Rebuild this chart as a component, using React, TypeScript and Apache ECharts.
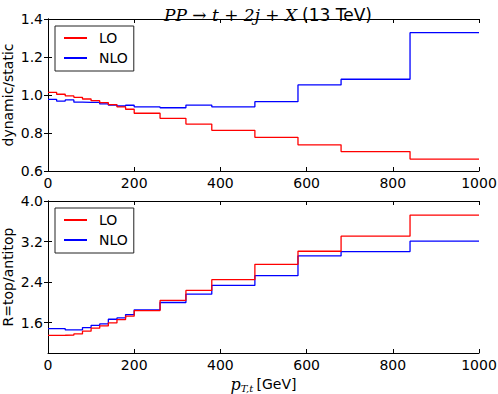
import React, { useEffect, useRef } from "react";
import * as echarts from "echarts";

const binEdges = [0, 20, 40, 60, 80, 100, 120, 140, 160, 180, 200, 260, 320, 380, 480, 580, 680, 840, 1000];
const loDynStatic = [1.014, 1.004, 0.995, 0.988, 0.979, 0.970, 0.960, 0.949, 0.938, 0.925, 0.904, 0.877, 0.847, 0.814, 0.777, 0.738, 0.702, 0.663];
const nloDynStatic = [0.977, 0.968, 0.974, 0.962, 0.961, 0.961, 0.953, 0.947, 0.942, 0.946, 0.937, 0.933, 0.947, 0.938, 0.965, 1.053, 1.083, 1.328];
const loRatio = [1.349, 1.350, 1.352, 1.376, 1.430, 1.490, 1.534, 1.594, 1.660, 1.726, 1.838, 2.037, 2.235, 2.447, 2.750, 3.008, 3.306, 3.722];
const nloRatio = [1.481, 1.480, 1.455, 1.455, 1.501, 1.547, 1.574, 1.666, 1.693, 1.759, 1.852, 1.997, 2.162, 2.334, 2.526, 2.916, 3.002, 3.207];
const ratioTicks = [1.6, 2.4, 3.2, 4.0];

const FONT = "DejaVu Sans";

function stepData(vals: number[]) {
  const d = vals.map((v, i) => [binEdges[i], v]);
  d.push([binEdges[binEdges.length - 1], vals[vals.length - 1]]);
  return d;
}

export default function App() {
  const ref = useRef<HTMLDivElement>(null);
  useEffect(() => {
    if (!ref.current) return;
    const chart = echarts.init(ref.current, null, { renderer: "svg" });
    const axisLine = { show: true, lineStyle: { color: "#000", width: 1 } };
    const tick = { show: true, inside: true, length: 4, lineStyle: { color: "#000", width: 1 } };
    const label = { color: "#000", fontFamily: FONT, fontSize: 14 };
    const xBase = (grid: number, top: boolean, extra: any = {}) => ({
      type: "value",
      gridIndex: grid,
      position: top ? "top" : "bottom",
      min: 0,
      max: 1000,
      interval: 200,
      axisLine,
      axisTick: tick,
      axisLabel: top ? { show: false } : { ...label, margin: 5, formatter: (v: number) => String(v) },
      splitLine: { show: false },
      ...extra,
    });
    const mkSeries = (name: string, color: string, vals: number[], idx: number) => ({
      type: "line",
      name,
      data: stepData(vals),
      step: "end",
      xAxisIndex: idx,
      yAxisIndex: idx,
      showSymbol: false,
      symbol: "none",
      lineStyle: { color, width: 1.3 },
      itemStyle: { color },
      z: name === "LO" ? 3 : 2,
    });
    const legendCommon = {
      orient: "vertical",
      left: 55,
      icon: "rect",
      itemWidth: 23,
      itemHeight: 2,
      itemGap: 6,
      borderColor: "#222",
      borderWidth: 1,
      borderRadius: 0,
      padding: [5, 6, 6, 9],
      textStyle: { color: "#000", fontFamily: FONT, fontSize: 14, lineHeight: 14, padding: [0, 0, 0, 7] },
      data: ["LO", "NLO"],
      selectedMode: false,
    };
    const yName = { color: "#000", fontFamily: FONT, fontSize: 14 };
    chart.setOption({
      animation: false,
      backgroundColor: "#fff",
      title: {
        text: "{m|PP → t + 2j + X} {s|(13 TeV)}",
        left: 263,
        textAlign: "center",
        top: 1,
        textStyle: {
          fontWeight: "normal",
          rich: {
            m: { fontFamily: "DejaVu Serif", fontStyle: "italic", fontWeight: "normal", fontSize: 17, color: "#000" },
            s: { fontFamily: FONT, fontSize: 17, fontWeight: "normal", color: "#000" },
          },
        },
      },
      legend: [
        { ...legendCommon, top: 26 },
        { ...legendCommon, top: 208 },
      ],
      grid: [
        { left: 48, right: 19, top: 19, height: 152, show: false, outerBoundsMode: "none", containLabel: false },
        { left: 48, right: 19, top: 201, height: 152, show: false, outerBoundsMode: "none", containLabel: false },
      ],
      xAxis: [
        xBase(0, false),
        xBase(1, false, {
          name: "{m|p}{sub|T,t} {s|[GeV]}",
          nameLocation: "middle",
          nameGap: 22,
          nameMoveOverlap: false,
          nameTextStyle: {
            rich: {
              m: { fontFamily: "DejaVu Serif", fontStyle: "italic", fontSize: 16, color: "#000" },
              sub: { fontFamily: "DejaVu Serif", fontStyle: "italic", fontSize: 10, color: "#000", padding: [8, 0, 0, 0] },
              s: { fontFamily: FONT, fontSize: 14, color: "#000" },
            },
          },
        }),
        xBase(0, true),
        xBase(1, true),
      ],
      yAxis: [
        {
          type: "value",
          gridIndex: 0,
          position: "left",
          min: 0.6,
          max: 1.4,
          interval: 0.2,
          axisLine,
          axisTick: tick,
          axisLabel: { ...label, margin: 5, formatter: (v: number) => v.toFixed(1) },
          splitLine: { show: false },
          name: "dynamic/static",
          nameLocation: "middle",
          nameGap: 33,
          nameMoveOverlap: false,
          nameTextStyle: yName,
        },
        {
          type: "value",
          gridIndex: 1,
          position: "left",
          min: 1.0,
          max: 4.0,
          axisLine,
          axisTick: { ...tick, customValues: ratioTicks },
          axisLabel: { ...label, margin: 5, customValues: ratioTicks, formatter: (v: number) => v.toFixed(1) },
          splitLine: { show: false },
          name: "R=top/antitop",
          nameLocation: "middle",
          nameGap: 33,
          nameMoveOverlap: false,
          nameTextStyle: yName,
        },
        {
          type: "value",
          gridIndex: 0,
          position: "right",
          min: 0.6,
          max: 1.4,
          interval: 0.2,
          axisLine,
          axisTick: tick,
          axisLabel: { show: false },
          splitLine: { show: false },
        },
        {
          type: "value",
          gridIndex: 1,
          position: "right",
          min: 1.0,
          max: 4.0,
          axisLine,
          axisTick: { ...tick, customValues: ratioTicks },
          axisLabel: { show: false, customValues: ratioTicks },
          splitLine: { show: false },
        },
      ],
      series: [
        mkSeries("NLO", "#0000ff", nloDynStatic, 0),
        mkSeries("LO", "#ff0000", loDynStatic, 0),
        mkSeries("NLO", "#0000ff", nloRatio, 1),
        mkSeries("LO", "#ff0000", loRatio, 1),
      ],
    });
    return () => chart.dispose();
  }, []);
  return <div ref={ref} style={{ width: 498, height: 394, position: "absolute", left: 0, top: 0 }} />;
}
